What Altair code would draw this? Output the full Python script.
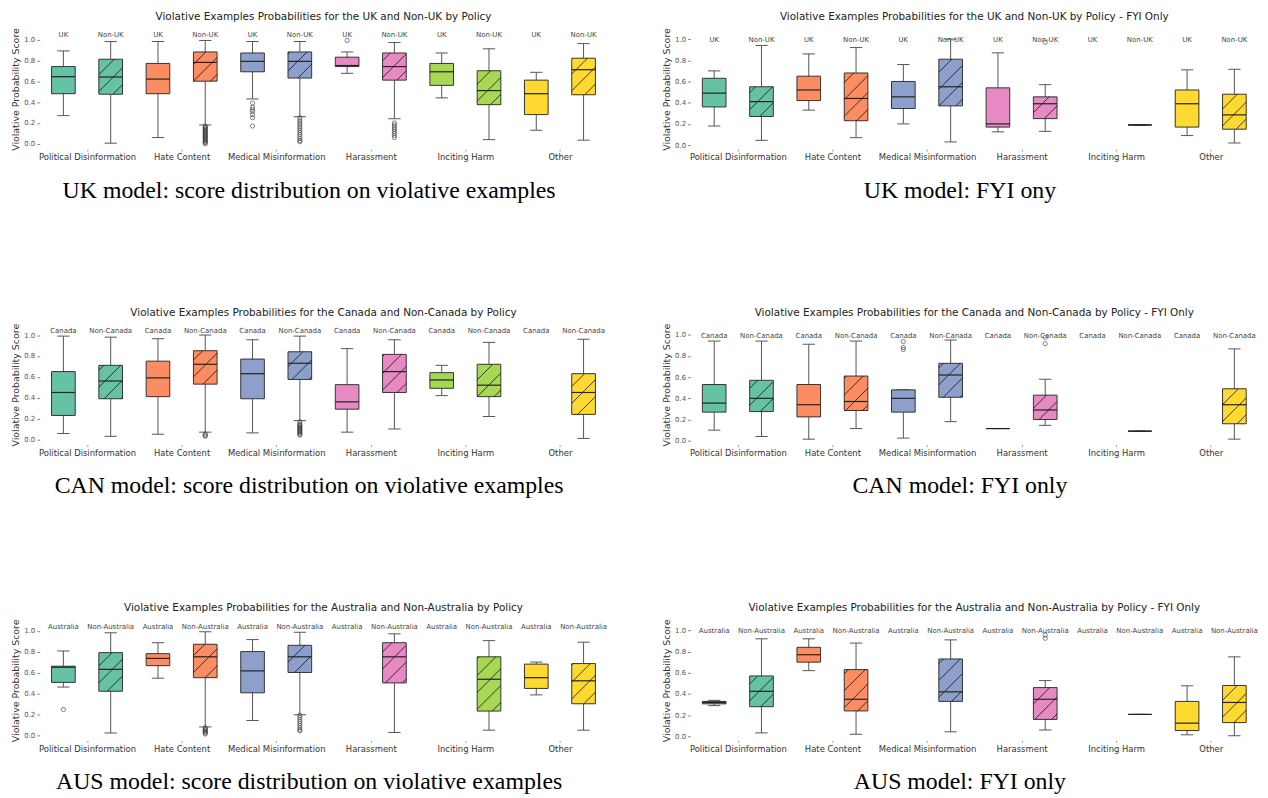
import math
import altair as alt
import pandas as pd

POLICIES = ["Political Disinformation", "Hate Content", "Medical Misinformation",
            "Harassment", "Inciting Harm", "Other"]
COLORS = ["#66c2a5", "#fc8d62", "#8da0cb", "#e78ac3", "#a6d854", "#ffd92f"]

# box order: (country, non-country) for each policy
# ---------- UK, all violative ----------
uk_low = [0.27, 0.006, 0.06, 0.18, 0.43, 0.26, 0.675, 0.24, 0.44, 0.04, 0.13, 0.035]
uk_q1 = [0.48, 0.475, 0.48, 0.60, 0.69, 0.63, 0.74, 0.61, 0.56, 0.375, 0.28, 0.47]
uk_med = [0.643, 0.64, 0.62, 0.78, 0.79, 0.79, 0.75, 0.74, 0.69, 0.51, 0.48, 0.71]
uk_q3 = [0.74, 0.81, 0.77, 0.88, 0.87, 0.88, 0.83, 0.87, 0.77, 0.70, 0.61, 0.82]
uk_high = [0.89, 0.98, 0.98, 0.99, 0.98, 0.98, 0.88, 0.97, 0.87, 0.91, 0.685, 0.96]
uk_out = {3: [0.17, 0.16, 0.15, 0.14, 0.13, 0.12, 0.11, 0.10, 0.09, 0.08, 0.07, 0.06, 0.05, 0.04, 0.03, 0.02, 0.01, 0.0],
          4: [0.39, 0.35, 0.33, 0.31, 0.28, 0.25, 0.17],
          5: [0.25, 0.23, 0.21, 0.19, 0.17, 0.15, 0.13, 0.11, 0.09, 0.07, 0.05, 0.03, 0.02],
          6: [0.99],
          7: [0.20, 0.18, 0.16, 0.14, 0.12, 0.10, 0.08, 0.06]}

# ---------- UK, FYI only ----------
ukf_low = [0.18, 0.045, 0.33, 0.07, 0.20, 0.03, 0.125, 0.13, None, 0.19, 0.09, 0.02]
ukf_q1 = [0.36, 0.27, 0.42, 0.23, 0.345, 0.37, 0.17, 0.25, None, 0.19, 0.17, 0.15]
ukf_med = [0.49, 0.41, 0.52, 0.44, 0.455, 0.55, 0.20, 0.39, None, 0.19, 0.39, 0.285]
ukf_q3 = [0.63, 0.55, 0.65, 0.68, 0.60, 0.81, 0.54, 0.455, None, 0.19, 0.52, 0.48]
ukf_high = [0.70, 0.94, 0.86, 0.92, 0.76, 1.0, 0.87, 0.57, None, 0.19, 0.71, 0.715]
ukf_out = {7: [0.97]}

# ---------- Canada, all violative ----------
ca_low = [0.057, 0.03, 0.05, 0.07, 0.063, 0.18, 0.07, 0.10, 0.42, 0.22, None, 0.01]
ca_q1 = [0.23, 0.39, 0.41, 0.53, 0.39, 0.575, 0.29, 0.45, 0.49, 0.41, None, 0.24]
ca_med = [0.45, 0.56, 0.59, 0.72, 0.63, 0.73, 0.36, 0.65, 0.57, 0.52, None, 0.45]
ca_q3 = [0.65, 0.71, 0.75, 0.85, 0.77, 0.84, 0.525, 0.815, 0.64, 0.72, None, 0.63]
ca_high = [0.99, 0.98, 0.965, 1.0, 0.955, 0.99, 0.87, 0.955, 0.71, 0.93, None, 0.96]
ca_out = {3: [0.05, 0.04, 0.03],
          5: [0.17, 0.15, 0.14, 0.13, 0.12, 0.11, 0.10, 0.09, 0.08, 0.07, 0.06, 0.05, 0.04]}

# ---------- Canada, FYI only ----------
caf_low = [0.10, 0.04, 0.015, 0.115, 0.025, 0.18, 0.115, 0.145, None, 0.09, None, 0.015]
caf_q1 = [0.27, 0.275, 0.225, 0.285, 0.27, 0.41, 0.115, 0.20, None, 0.09, None, 0.16]
caf_med = [0.355, 0.40, 0.34, 0.37, 0.40, 0.62, 0.115, 0.29, None, 0.09, None, 0.34]
caf_q3 = [0.53, 0.57, 0.53, 0.61, 0.48, 0.73, 0.115, 0.43, None, 0.09, None, 0.49]
caf_high = [0.94, 0.94, 0.91, 0.94, 0.48, 0.95, 0.115, 0.58, None, 0.09, None, 0.866]
caf_out = {4: [0.935, 0.88, 0.86], 7: [0.975, 0.915]}

# ---------- Australia, all violative ----------
au_low = [0.46, 0.02, 0.545, 0.078, 0.14, 0.195, None, 0.025, None, 0.047, 0.385, 0.047]
au_q1 = [0.505, 0.42, 0.665, 0.55, 0.405, 0.60, None, 0.50, None, 0.23, 0.447, 0.30]
au_med = [0.65, 0.63, 0.735, 0.75, 0.615, 0.75, None, 0.75, None, 0.535, 0.55, 0.52]
au_q3 = [0.66, 0.79, 0.78, 0.87, 0.80, 0.86, None, 0.885, None, 0.75, 0.68, 0.685]
au_high = [0.806, 0.98, 0.885, 0.99, 0.915, 0.985, None, 0.97, None, 0.905, 0.70, 0.89]
au_out = {0: [0.245],
          3: [0.07, 0.06, 0.05, 0.04, 0.03, 0.02, 0.01],
          5: [0.19, 0.17, 0.15, 0.13, 0.11, 0.09, 0.07, 0.05, 0.04]}

# ---------- Australia, FYI only ----------
auf_low = [0.29, 0.033, 0.62, 0.02, None, 0.043, None, 0.06, None, 0.207, 0.015, 0.006]
auf_q1 = [0.307, 0.28, 0.70, 0.24, None, 0.33, None, 0.16, None, 0.207, 0.055, 0.13]
auf_med = [0.32, 0.425, 0.77, 0.35, None, 0.42, None, 0.35, None, 0.207, 0.125, 0.32]
auf_q3 = [0.33, 0.57, 0.84, 0.63, None, 0.73, None, 0.46, None, 0.207, 0.33, 0.48]
auf_high = [0.34, 0.92, 0.92, 0.88, None, 0.91, None, 0.526, None, 0.207, 0.477, 0.75]
auf_out = {7: [0.955, 0.925]}

Y_TICKS = [0.0, 0.2, 0.4, 0.6, 0.8, 1.0]

PLOT_W = 572
PLOT_H = 121
HALF = 0.25
CAP = 0.13
HATCH_PX = 17
FONT = "DejaVu Sans"


def hatch_segments(pos, q1, q3, y0, y1):
    px_x = PLOT_W / 12.0
    px_y = PLOT_H / (y1 - y0)
    xl = (pos - HALF) * px_x
    xr = (pos + HALF) * px_x
    yb = q1 * px_y
    yt = q3 * px_y
    segs = []
    k0 = math.ceil((yb - xr) / HATCH_PX)
    k1 = math.floor((yt - xl) / HATCH_PX)
    for k in range(k0, k1 + 1):
        c = k * HATCH_PX
        xa = max(xl, yb - c)
        xb = min(xr, yt - c)
        if xb - xa < 1.5:
            continue
        segs.append(dict(hx1=xa / px_x, hx2=xb / px_x,
                         hy1=(xa + c) / px_y, hy2=(xb + c) / px_y))
    return segs


def make_panel(country, low, q1, med, q3, high, outs, fyi, caption):
    y0, y1 = (-0.037, 1.095) if fyi else (-0.05, 1.10)
    label_y = 0.99 if fyi else 1.04
    title = f"Violative Examples Probabilities for the {country} and Non-{country} by Policy"
    if fyi:
        title += " - FYI Only"
    rows, hatch, pts, labels = [], [], [], []
    for i in range(12):
        pol = POLICIES[i // 2]
        non = i % 2 == 1
        labels.append(dict(pos=i, ly=label_y, lab=("Non-" + country) if non else country))
        if med[i] is None:
            continue
        rows.append(dict(pos=i, policy=pol, low=low[i], q1=q1[i], med=med[i], q3=q3[i],
                         high=high[i], xl=i - HALF, xr=i + HALF, cl=i - CAP, cr=i + CAP))
        if non and q3[i] > q1[i]:
            hatch.extend(hatch_segments(i, q1[i], q3[i], y0, y1))
        for v in outs.get(i, []):
            pts.append(dict(pos=i, val=v))
    box_df = pd.DataFrame(rows)
    hatch_df = pd.DataFrame(hatch, columns=["hx1", "hx2", "hy1", "hy2"])
    pts_df = pd.DataFrame(pts, columns=["pos", "val"])
    lab_df = pd.DataFrame(labels)

    xs = alt.Scale(domain=[-0.5, 11.5], nice=False, zero=False)
    ys = alt.Scale(domain=[y0, y1], nice=False, zero=False)
    label_expr = "[" + ",".join(f"'{p}'" for p in POLICIES) + "][round((datum.value - 0.5) / 2)]"
    xaxis = alt.Axis(values=[0.5, 2.5, 4.5, 6.5, 8.5, 10.5], labelExpr=label_expr,
                     domain=False, grid=False, ticks=True, tickSize=2, tickColor="#999",
                     labelFont=FONT, labelFontSize=8.5, labelColor="#333", labelPadding=2,
                     labelOverlap=False,
                     title=caption, titleFont="Liberation Serif", titleFontSize=24,
                     titleFontWeight="normal", titleColor="#000", titlePadding=17,
                     titleX=PLOT_W / 2 - 15, titleAlign="center")
    yaxis = alt.Axis(values=Y_TICKS, format=".1f", domain=False, grid=False,
                     tickSize=3, tickColor="#888", labelFont=FONT, labelFontSize=7,
                     labelColor="#555", labelPadding=2, labelOverlap=False, labelFlush=False,
                     labelBound=False,
                     title="Violative Probability Score", titleFont=FONT, titleFontSize=9.5,
                     titleFontWeight="normal", titleColor="#333", titlePadding=3)

    def X(f):
        return alt.X(f, type="quantitative", scale=xs, axis=xaxis)

    def Y(f):
        return alt.Y(f, type="quantitative", scale=ys, axis=yaxis)

    color = alt.Color("policy:N", scale=alt.Scale(domain=POLICIES, range=COLORS), legend=None)

    whisk = alt.Chart(box_df).mark_rule(color="#555", strokeWidth=1).encode(
        x=X("pos"), y=Y("low"), y2="high")
    cap_lo = alt.Chart(box_df).mark_rule(color="#555", strokeWidth=1).encode(
        x=X("cl"), x2="cr", y=Y("low"))
    cap_hi = alt.Chart(box_df).mark_rule(color="#555", strokeWidth=1).encode(
        x=X("cl"), x2="cr", y=Y("high"))
    box = alt.Chart(box_df).mark_rect(stroke="#333", strokeWidth=1).encode(
        x=X("xl"), x2="xr", y=Y("q1"), y2="q3", color=color)
    layers = [whisk, cap_lo, cap_hi, box]
    if len(hatch_df):
        layers.append(alt.Chart(hatch_df).mark_rule(color="#111", strokeWidth=0.8).encode(
            x=X("hx1"), x2="hx2", y=Y("hy1"), y2="hy2"))
    layers.append(alt.Chart(box_df).mark_rule(color="#222", strokeWidth=1.2).encode(
        x=X("xl"), x2="xr", y=Y("med")))
    if len(pts_df):
        layers.append(alt.Chart(pts_df).mark_point(shape="circle", filled=False, color="#222",
                                                   size=18, strokeWidth=0.8).encode(
            x=X("pos"), y=Y("val")))
    layers.append(alt.Chart(lab_df).mark_text(font=FONT, fontSize=7, color="#444",
                                              baseline="middle").encode(
        x=X("pos"), y=Y("ly"), text="lab:N"))
    return alt.layer(*layers).properties(
        width=PLOT_W, height=PLOT_H,
        title=alt.TitleParams(title, font=FONT, fontSize=10.5, fontWeight="normal",
                              color="#222", offset=5))


p1 = make_panel("UK", uk_low, uk_q1, uk_med, uk_q3, uk_high, uk_out, False,
                "UK model: score distribution on violative examples")
p2 = make_panel("UK", ukf_low, ukf_q1, ukf_med, ukf_q3, ukf_high, ukf_out, True,
                "UK model: FYI ony")
p3 = make_panel("Canada", ca_low, ca_q1, ca_med, ca_q3, ca_high, ca_out, False,
                "CAN model: score distribution on violative examples")
p4 = make_panel("Canada", caf_low, caf_q1, caf_med, caf_q3, caf_high, caf_out, True,
                "CAN model: FYI only")
p5 = make_panel("Australia", au_low, au_q1, au_med, au_q3, au_high, au_out, False,
                "AUS model: score distribution on violative examples")
p6 = make_panel("Australia", auf_low, auf_q1, auf_med, auf_q3, auf_high, auf_out, True,
                "AUS model: FYI only")

chart = alt.vconcat(
    alt.hconcat(p1, p2, spacing=54),
    alt.hconcat(p3, p4, spacing=54),
    alt.hconcat(p5, p6, spacing=54),
    spacing=106,
    background="white",
    padding={"left": 2, "top": 1, "right": 2, "bottom": 2},
).configure_view(stroke=None)

chart.save("out.html", embed_options={"renderer": "svg", "actions": False})
